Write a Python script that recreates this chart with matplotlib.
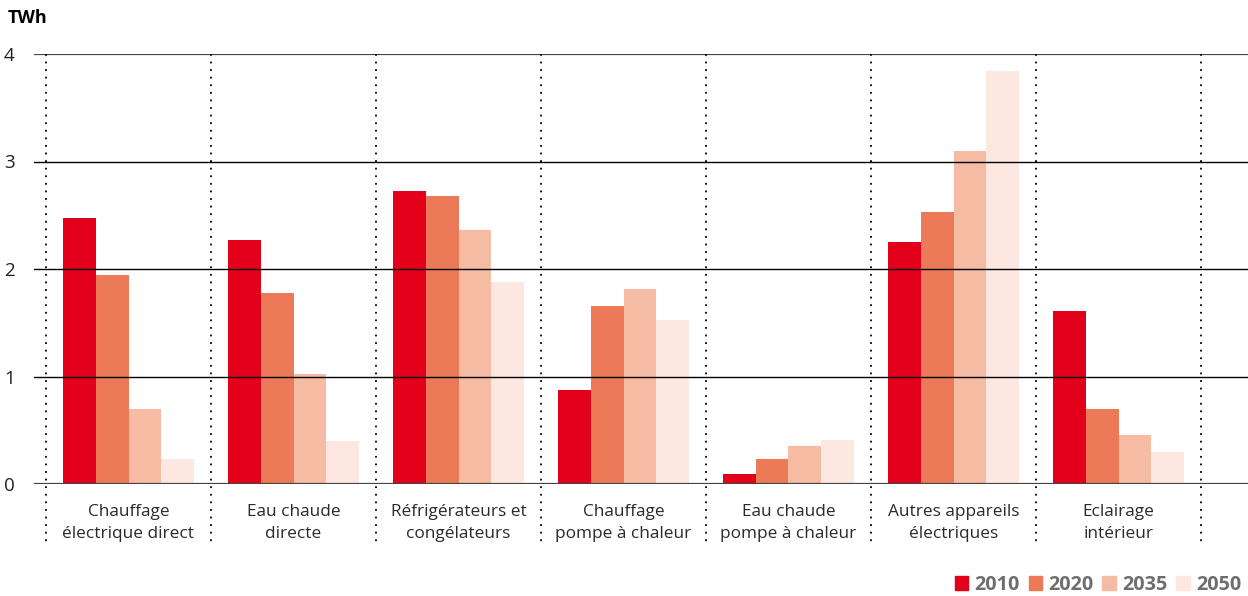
import matplotlib; matplotlib.use('Agg')
import matplotlib.pyplot as plt
import numpy as np
from matplotlib.patches import Patch

categories = ['Chauffage\nélectrique direct', 'Eau chaude\ndirecte', 'Réfrigérateurs et\ncongélateurs',
              'Chauffage\npompe à chaleur', 'Eau chaude\npompe à chaleur', 'Autres appareils\nélectriques',
              'Eclairage\nintérieur']
years = ['2010', '2020', '2035', '2050']
v2010 = [2.47, 2.27, 2.73, 0.87, 0.09, 2.25, 1.61]
v2020 = [1.94, 1.78, 2.68, 1.66, 0.23, 2.53, 0.70]
v2035 = [0.70, 1.02, 2.36, 1.81, 0.35, 3.10, 0.46]
v2050 = [0.23, 0.40, 1.88, 1.53, 0.41, 3.84, 0.30]
colors = ['#E2001A', '#EC7A58', '#F6BBA3', '#FCE8E0']

plt.rcParams['font.family'] = ['Open Sans', 'DejaVu Sans']

fig = plt.figure(figsize=(12.48, 5.96), dpi=100)
ax = fig.add_axes([34 / 1248, 1 - 484 / 596, 1214 / 1248, 430 / 596])

x = np.arange(len(categories))
w = 0.197
for i, (vals, c) in enumerate(zip([v2010, v2020, v2035, v2050], colors)):
    ax.bar(x + (i - 1.5) * w, vals, width=w, color=c, zorder=2, label=years[i])

ax.set_xlim(-0.5 - 12 / 165, 6.5 + 47 / 165)
ax.set_ylim(0, 4)

for yv in [1, 2, 3]:
    ax.axhline(yv, color='black', lw=1.0, zorder=3)
ax.axhline(4, color='#444444', lw=1.6, zorder=3)
ax.axhline(0, color='#444444', lw=1.6, zorder=3)

for d in np.arange(len(categories) + 1) - 0.5:
    ax.plot([d, d], [4, -0.57], color='black', lw=1.3, ls=(0, (1, 3.2)), clip_on=False, zorder=4)

for xi, lab in zip(x, categories):
    ax.text(xi, -0.19, lab, ha='center', va='top', fontsize=12.4, color='#2a2a2a', linespacing=1.5)

for s in ax.spines.values():
    s.set_visible(False)
ax.set_xticks([])
ax.set_yticks([0, 1, 2, 3, 4])
ax.tick_params(axis='y', length=0, pad=14, labelsize=13.5, labelcolor='#222222')

fig.text(8 / 1248, 1 - 18 / 596, 'TWh', fontsize=13, fontweight='bold', va='center', ha='left')

handles = [Patch(color=c) for c in colors]
leg = fig.legend(handles, years, loc='lower right', bbox_to_anchor=(1.0 + 11 / 1248, -0.028), ncol=4,
                 frameon=False, handlelength=0.7, handleheight=0.7, handletextpad=0.3,
                 columnspacing=0.45, prop={'weight': 'bold', 'size': 14.2})
for t in leg.get_texts():
    t.set_color('#6e6e6e')

fig.savefig('out.png', dpi=100)
